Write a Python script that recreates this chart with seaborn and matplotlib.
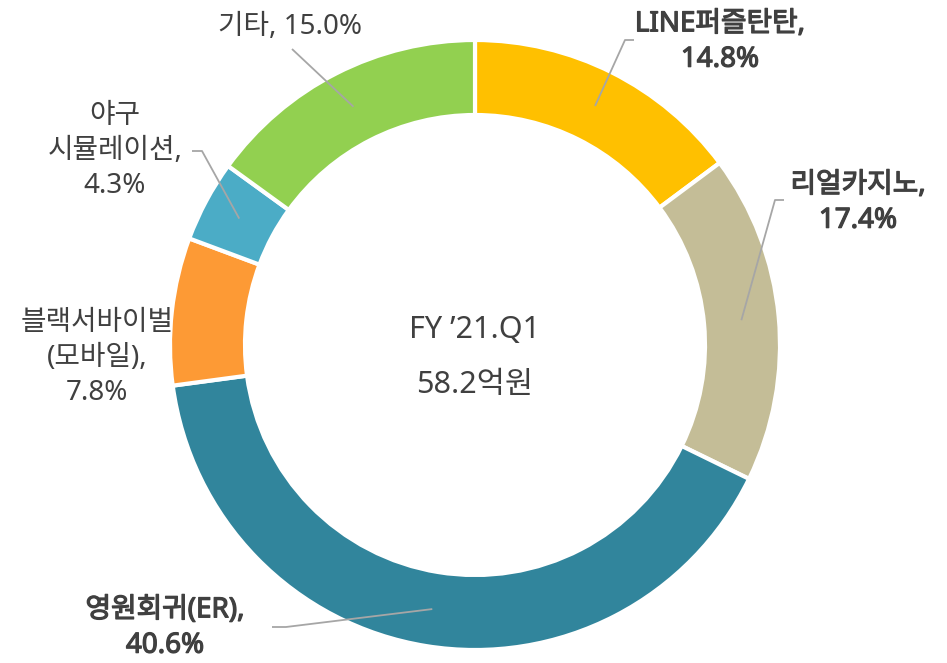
import numpy as np
import matplotlib
matplotlib.use("Agg")
import matplotlib.pyplot as plt
import matplotlib.patheffects as pe
import seaborn as sns

# data
games = ["LINE퍼즐탄탄", "리얼카지노", "영원회귀(ER)", "블랙서바이벌\n(모바일)", "야구\n시뮬레이션", "기타"]
shares = [14.8, 17.4, 40.6, 7.8, 4.3, 15.0]
slice_colors = ["#FFC000", "#C4BD97", "#31859C", "#FD9A35", "#4BACC6", "#92D050"]
bold_games = ["LINE퍼즐탄탄", "리얼카지노", "영원회귀(ER)"]
center_title = "FY \u201921.Q1"
center_total = "58.2억원"

# layout in pixels, measured from the top-left corner of the picture
W, H = 947, 663
CX, CY, R_OUT, R_IN = 475, 345, 305, 230
label_pos = [(720, 42), (858, 203), (165, 628), (97, 358), (115, 151), (290, 27)]
label_sep = [",\n", ",\n", ",\n", ",\n", ",\n", ", "]
leader_pts = [
    [(625, 40), (634, 40)],
    [(775, 200), (784, 200)],
    [(286, 627), (272, 627)],
    None,
    [(202, 151), (192, 151)],
    [(292, 49)],
]

sns.set_theme(style="white")
plt.rcParams["font.family"] = ["Noto Sans", "Noto Sans CJK KR", "DejaVu Sans"]

fig = plt.figure(figsize=(W / 100, H / 100), dpi=100)
ax = fig.add_axes([0, 0, 1, 1])


def fy(y):
    return H - y


wedges, _ = ax.pie(
    shares,
    colors=slice_colors,
    startangle=90,
    counterclock=False,
    center=(CX, fy(CY)),
    radius=R_OUT,
    wedgeprops=dict(width=R_OUT - R_IN, edgecolor="white", linewidth=3),
    frame=True,
)
ax.set_xlim(0, W)
ax.set_ylim(0, H)
ax.set_aspect("equal")
ax.axis("off")

text_color = "#404040"
# the heavier labels are a medium weight; a thin stroke thickens the regular face
medium = [pe.withStroke(linewidth=0.9, foreground=text_color)]
r_mid = (R_OUT + R_IN) / 2
for i, w in enumerate(wedges):
    ang = np.deg2rad((w.theta1 + w.theta2) / 2)
    sx = CX + r_mid * np.cos(ang)
    sy = fy(CY) + r_mid * np.sin(ang)
    if leader_pts[i] is not None:
        xs = [sx] + [p[0] for p in leader_pts[i]]
        ys = [sy] + [fy(p[1]) for p in leader_pts[i]]
        ax.plot(xs, ys, color="#A6A6A6", lw=1.3, solid_capstyle="butt")
    txt = f"{games[i]}{label_sep[i]}{shares[i]:.1f}%"
    lx, ly = label_pos[i]
    ax.text(lx, fy(ly), txt, ha="center", va="center", multialignment="center",
            fontsize=20, color=text_color, linespacing=1.35,
            path_effects=medium if games[i] in bold_games else None)

ax.text(CX, fy(330), center_title, ha="center", va="center", fontsize=22, color=text_color)
ax.text(CX, fy(385), center_total, ha="center", va="center", fontsize=22, color=text_color)

fig.savefig("out.png", dpi=100, facecolor="white")
